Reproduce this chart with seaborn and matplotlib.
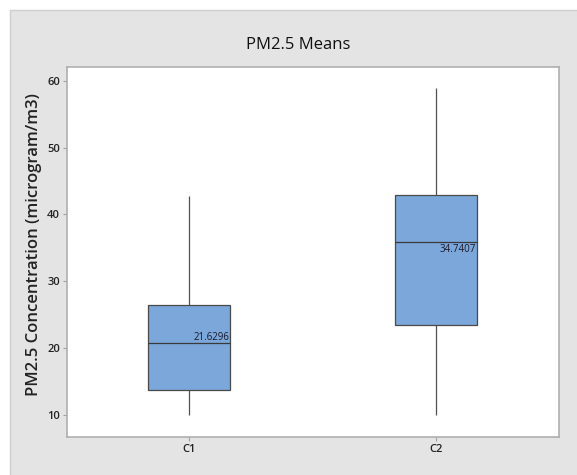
import numpy as np
import pandas as pd
import matplotlib
matplotlib.use("Agg")
import matplotlib.pyplot as plt
from matplotlib.patches import Rectangle
import seaborn as sns

# ---- data (five-number summaries) ----
categories = ["C1", "C2"]
c1_summary = [10.0, 13.7, 20.8, 26.4, 42.8]   # min, Q1, median, Q3, max
c2_summary = [10.0, 23.5, 35.9, 42.9, 59.0]
means = [21.6296, 34.7407]
mean_labels = ["21.6296", "34.7407"]
yticks = [10, 20, 30, 40, 50, 60]

df = pd.DataFrame({
    "group": ["C1"] * len(c1_summary) + ["C2"] * len(c2_summary),
    "value": c1_summary + c2_summary,
})

sns.set_theme(style="white")
plt.rcParams["font.family"] = ["Open Sans", "DejaVu Sans"]

W, H = 577, 475
fig = plt.figure(figsize=(W / 100, H / 100), dpi=100, facecolor="white")
# grey panel background
fig.patches.append(Rectangle((10 / W, -0.01), 1.02, 1 - 10 / H + 0.01,
                             transform=fig.transFigure, facecolor="#e4e4e4",
                             edgecolor="#cfcfcf", linewidth=1.0, zorder=-10))

ax = fig.add_axes([66.7 / W, 1 - 437.3 / H, (559 - 66.7) / W, (437.3 - 67) / H])
ax.set_facecolor("white")

box_w = 0.333
sns.boxplot(data=df, x="group", y="value", order=categories, ax=ax,
            whis=(0, 100), width=box_w, color="#7ba7da", saturation=1,
            linecolor="#4a4a4a", linewidth=0.9, showcaps=False,
            medianprops=dict(color="#3a3a3a", linewidth=0.9),
            whiskerprops=dict(color="#505050", linewidth=0.9))

for i, (m, lab) in enumerate(zip(means, mean_labels)):
    ax.text(i + box_w / 2 - 0.003, m, lab, ha="right", va="center",
            fontsize=7, color="#1a1a2a", family=["Liberation Sans Narrow", "Open Sans", "DejaVu Sans"])

ax.set_xlim(-0.497, 1.5)
ax.set_ylim(6.6, 62.1)
ax.set_yticks(yticks)
ax.set_yticklabels([str(t) for t in yticks])
ax.set_xlabel("")
ax.set_ylabel("")

for s in ax.spines.values():
    s.set_color("#b0b0b0")
    s.set_linewidth(1.2)

ax.tick_params(axis="both", which="both", direction="out", length=3, width=0.8,
               color="#a0a0a0", labelsize=8, labelcolor="#222222", pad=2,
               left=True, bottom=True)
for lbl in ax.get_yticklabels() + ax.get_xticklabels():
    lbl.set_fontweight("semibold")

fig.text(298 / W, 1 - 45 / H, "PM2.5 Means", ha="center", va="center",
         fontsize=12, fontweight="medium", color="#111111")
fig.text(34 / W, 1 - 245 / H, "PM2.5 Concentration (microgram/m3)", rotation=90,
         ha="center", va="center", fontsize=12, fontweight="semibold", color="#222222")

fig.savefig("out.png", dpi=100, facecolor=fig.get_facecolor())
